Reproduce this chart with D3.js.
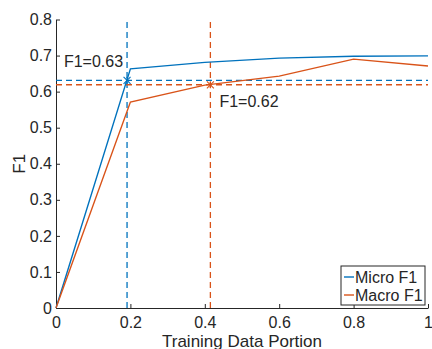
<!DOCTYPE html>
<html>
<head>
<meta charset="utf-8">
<script src="https://cdn.jsdelivr.net/npm/d3@7"></script>
<style>
  body { margin: 0; background: #fff; }
  text { font-family: "Liberation Sans", Arial, sans-serif; fill: #262626; }
</style>
</head>
<body>
<div id="chart"></div>
<script>
// data
var portions = [0, 0.2, 0.4, 0.6, 0.8, 1.0];
var microF1 = [0, 0.663, 0.681, 0.693, 0.698, 0.699];
var macroF1 = [0, 0.571, 0.618, 0.643, 0.690, 0.671];
var seriesNames = ['Micro F1', 'Macro F1'];
var xTicks = [0, 0.2, 0.4, 0.6, 0.8, 1];
var yTicks = [0, 0.1, 0.2, 0.3, 0.4, 0.5, 0.6, 0.7, 0.8];
// crossing points marked with dashed guides
var microMark = {x: 0.191, y: 0.631, label: 'F1=0.63'};
var macroMark = {x: 0.415, y: 0.619, label: 'F1=0.62'};

var colors = ['#0072BD', '#D95319'];
var width = 432, height = 349;
var margin = {top: 19.5, right: 4, bottom: 41, left: 56};

var svg = d3.select('#chart').append('svg')
    .attr('width', width)
    .attr('height', height);

var x = d3.scaleLinear().domain([0, 1]).range([margin.left, width - margin.right]);
var y = d3.scaleLinear().domain([0, 0.8]).range([height - margin.bottom, margin.top]);

var axisColor = '#262626';

// axes (ticks pointing inward like MATLAB)
var xAxis = svg.append('g')
    .attr('transform', 'translate(0,' + y(0) + ')')
    .call(d3.axisBottom(x).tickValues(xTicks).tickSizeInner(-4).tickSizeOuter(0)
        .tickFormat(function(d) { return d === 0 || d === 1 ? d : d3.format('.1f')(d); }));
xAxis.selectAll('text').attr('y', 9).style('font-size', '16px').attr('dy', '0.71em');

var yAxis = svg.append('g')
    .attr('transform', 'translate(' + x(0) + ',0)')
    .call(d3.axisLeft(y).tickValues(yTicks).tickSizeInner(-4).tickSizeOuter(0)
        .tickFormat(function(d) { return d === 0 ? '0' : d3.format('.1f')(d); }));
yAxis.selectAll('text').attr('x', -4).style('font-size', '16px');

[xAxis, yAxis].forEach(function(a) {
    a.select('.domain').attr('stroke', axisColor).attr('stroke-width', 1);
    a.selectAll('.tick line').attr('stroke', axisColor);
    a.selectAll('text').style('font-family', '"Liberation Sans", Arial, sans-serif').attr('fill', axisColor);
});

// axis labels
svg.append('text')
    .attr('x', (x(0) + x(1)) / 2)
    .attr('y', 347)
    .attr('text-anchor', 'middle')
    .style('font-size', '17px')
    .text('Training Data Portion');

svg.append('text')
    .attr('transform', 'translate(25,' + (y(0) + y(0.8)) / 2 + ') rotate(-90)')
    .attr('text-anchor', 'middle')
    .style('font-size', '17px')
    .text('F1');

// dashed guide lines
function guides(m, color) {
    svg.append('line')
        .attr('x1', x(0)).attr('x2', x(1))
        .attr('y1', y(m.y)).attr('y2', y(m.y))
        .attr('stroke', color).attr('stroke-width', 1.3).attr('stroke-dasharray', '6,4');
    svg.append('line')
        .attr('x1', x(m.x)).attr('x2', x(m.x))
        .attr('y1', y(0)).attr('y2', y(0.8))
        .attr('stroke', color).attr('stroke-width', 1.3).attr('stroke-dasharray', '6,4');
}
guides(microMark, colors[0]);
guides(macroMark, colors[1]);

// lines
var line = d3.line()
    .x(function(d, i) { return x(portions[i]); })
    .y(function(d) { return y(d); });

[microF1, macroF1].forEach(function(s, i) {
    svg.append('path')
        .datum(s)
        .attr('fill', 'none')
        .attr('stroke', colors[i])
        .attr('stroke-width', 1.4)
        .attr('d', line);
});

// asterisk markers
function marker(m, color) {
    var g = svg.append('g')
        .attr('transform', 'translate(' + x(m.x) + ',' + y(m.y) + ')')
        .attr('stroke', color).attr('stroke-width', 1.1);
    var r = 3.5;
    g.append('line').attr('x1', -r).attr('x2', r).attr('y1', -r).attr('y2', r);
    g.append('line').attr('x1', -r).attr('x2', r).attr('y1', r).attr('y2', -r);
    g.append('line').attr('x1', 0).attr('x2', 0).attr('y1', -r).attr('y2', r);
}
marker(microMark, colors[0]);
marker(macroMark, colors[1]);

// annotations
svg.append('text')
    .attr('x', x(microMark.x) - 4)
    .attr('y', 67)
    .attr('text-anchor', 'end')
    .style('font-size', '16px')
    .text(microMark.label);

svg.append('text')
    .attr('x', x(macroMark.x) + 9)
    .attr('y', 107)
    .style('font-size', '16px')
    .text(macroMark.label);

// legend
var lg = svg.append('g').attr('transform', 'translate(341,266)');
lg.append('rect')
    .attr('width', 84).attr('height', 39)
    .attr('fill', '#fff').attr('stroke', axisColor).attr('stroke-width', 1);
seriesNames.forEach(function(name, i) {
    var yy = 11 + i * 18;
    lg.append('line')
        .attr('x1', 3).attr('x2', 13)
        .attr('y1', yy).attr('y2', yy)
        .attr('stroke', colors[i]).attr('stroke-width', 1.4);
    lg.append('text')
        .attr('x', 14)
        .attr('y', yy + 5.5)
        .style('font-size', '16px')
        .text(name);
});
</script>
</body>
</html>
